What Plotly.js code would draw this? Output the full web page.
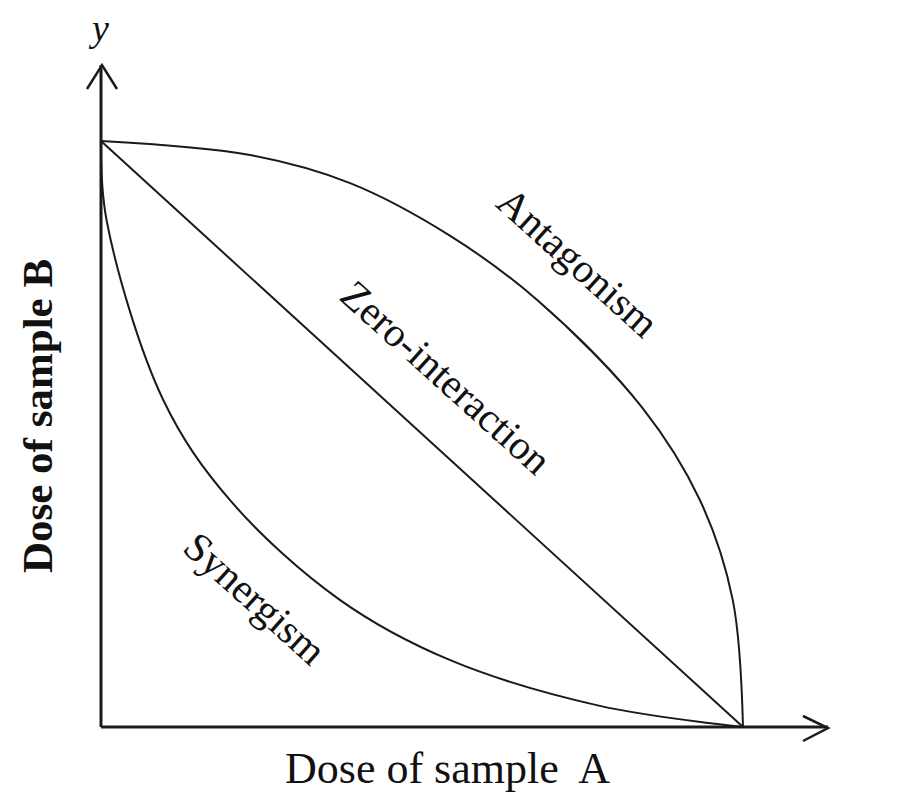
<!DOCTYPE html>
<html>
<head>
<meta charset="utf-8">
<script src="https://cdn.plot.ly/plotly-3.0.1.min.js"></script>
<style>html,body{margin:0;padding:0;background:#fff;}#chart{width:897px;height:800px;}</style>
</head>
<body>
<div id="chart"></div>
<script>
// Isobologram curves (dose of A on x, dose of B on y, normalised)
const zeroX = [0, 1];
const zeroY = [1, 0];

const antagonismX = [0, 0.232, 0.388, 0.544, 0.679, 0.843, 0.933, 0.984, 1];
const antagonismY = [1, 0.976, 0.928, 0.838, 0.729, 0.545, 0.387, 0.217, 0];

const synergismX = [0, 0.009, 0.097, 0.201, 0.372, 0.544, 0.777, 0.96, 1];
const synergismY = [1, 0.863, 0.558, 0.387, 0.217, 0.114, 0.036, 0.005, 0];

const regionLabels = ["Antagonism", "Zero-interaction", "Synergism"];
const xTitle = "Dose of sample\u00A0 A";
const yTitle = "Dose of sample B";

// ---- layout geometry (pixels) ----
const W = 897, H = 800;
const oxPx = 101, oyPx = 727;      // origin
const unitX = 642, unitY = 586;     // pixels per unit
const m = {l: 30, r: 20, t: 20, b: 20};
const xr = [(m.l - oxPx) / unitX, (W - m.r - oxPx) / unitX];
const yr = [(oyPx - (H - m.b)) / unitY, (oyPx - m.t) / unitY];
const X = px => (px - oxPx) / unitX;
const Y = py => (oyPx - py) / unitY;

const lineStyle = {color: '#1a1a1a', width: 2, shape: 'spline', smoothing: 1};
const traces = [
  {x: zeroX, y: zeroY, mode: 'lines', line: {color: '#1a1a1a', width: 2}, hoverinfo: 'skip'},
  {x: antagonismX, y: antagonismY, mode: 'lines', line: lineStyle, hoverinfo: 'skip'},
  {x: synergismX, y: synergismY, mode: 'lines', line: lineStyle, hoverinfo: 'skip'}
];

const axisColor = '#1a1a1a';
const shapes = [
  // x axis + arrowhead
  {type: 'line', x0: 0, y0: 0, x1: X(828), y1: 0, line: {color: axisColor, width: 3}},
  {type: 'path', path: `M ${X(803)} ${Y(716)} L ${X(828)} ${Y(728)} L ${X(803)} ${Y(741)}`, line: {color: axisColor, width: 2.5}},
  // y axis + arrowhead
  {type: 'line', x0: 0, y0: 0, x1: 0, y1: Y(65), line: {color: axisColor, width: 3}},
  {type: 'path', path: `M ${X(87)} ${Y(89)} L ${X(102)} ${Y(65)} L ${X(117)} ${Y(89)}`, line: {color: axisColor, width: 2.5}}
];

const serif = '"Times New Roman", "Liberation Serif", serif';
const labelFont = {family: serif, size: 41, color: '#111'};
const annotations = [
  {x: X(578), y: Y(262), text: regionLabels[0], textangle: 42, showarrow: false, font: labelFont},
  {x: X(446), y: Y(377), text: regionLabels[1], textangle: 42, showarrow: false, font: labelFont},
  {x: X(255), y: Y(598), text: regionLabels[2], textangle: 42, showarrow: false, font: labelFont},
  {x: X(447), y: Y(768), text: xTitle, showarrow: false, font: {family: serif, size: 44, color: '#111'}},
  {x: X(37), y: Y(416), text: '<b>' + yTitle + '</b>', textangle: -90, showarrow: false, font: {family: serif, size: 43, color: '#111'}},
  {x: X(98), y: Y(28), text: '<i>y</i>', showarrow: false, font: {family: serif, size: 38, color: '#111'}},
  {x: X(878), y: Y(726), text: '<i>x</i>', showarrow: false, font: {family: serif, size: 38, color: '#111'}}
];

const layout = {
  width: W, height: H, autosize: false,
  margin: m,
  paper_bgcolor: '#fff', plot_bgcolor: '#fff',
  showlegend: false,
  xaxis: {range: xr, showgrid: false, zeroline: false, showline: false, showticklabels: false, ticks: '', fixedrange: true},
  yaxis: {range: yr, showgrid: false, zeroline: false, showline: false, showticklabels: false, ticks: '', fixedrange: true},
  shapes: shapes,
  annotations: annotations
};

Plotly.newPlot('chart', traces, layout, {displayModeBar: false, staticPlot: true});
</script>
</body>
</html>
